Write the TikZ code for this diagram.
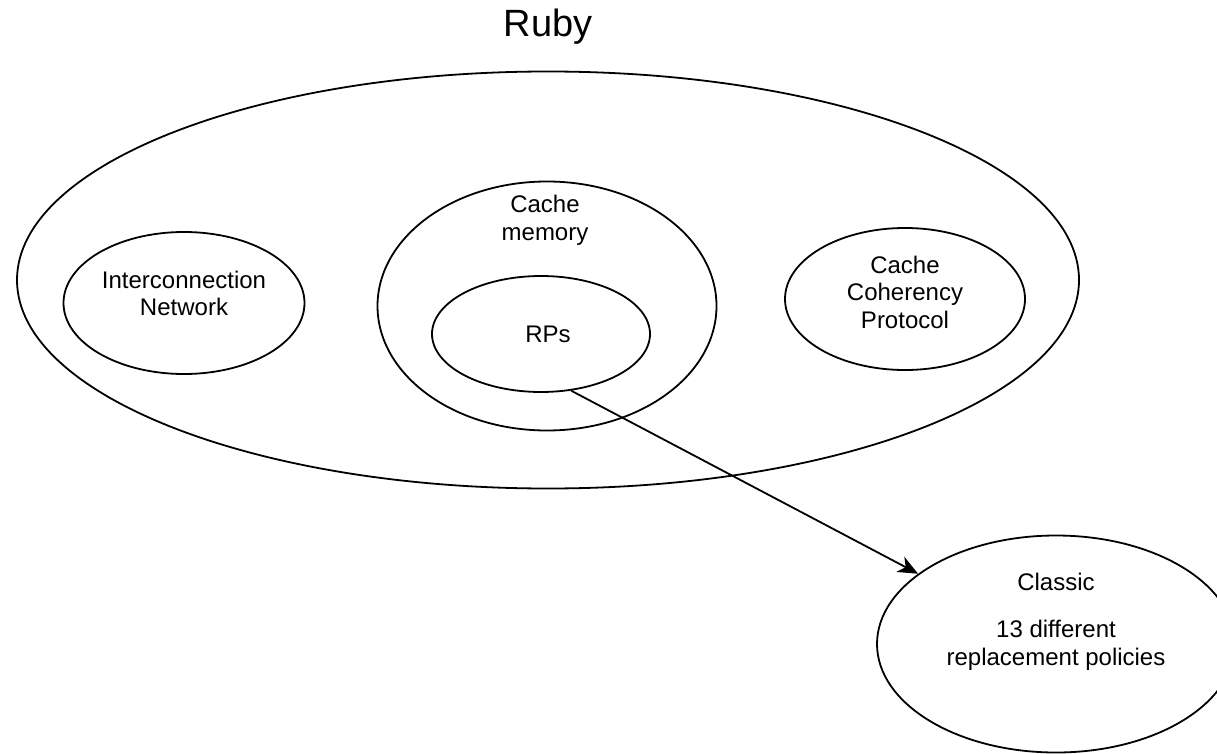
\documentclass[tikz,border=0pt]{standalone}
\usepackage{fontspec}
\setmainfont{Liberation Sans}
\usetikzlibrary{shapes.geometric,arrows.meta}
\begin{document}
\begin{tikzpicture}[x=1pt,y=-1pt,
  oval/.style={draw=black,line width=1.8pt,ellipse,inner sep=0pt},
  lbl/.style={anchor=base,inner sep=0pt,font=\fontsize{24}{28}\selectfont},
  conn/.style={draw=black,line width=1.8pt,-{Stealth[length=20pt,width=17pt,inset=6pt]}}]
\useasboundingbox (0,0) rectangle (1217,754);
\begin{scope}
\clip (0,0) rectangle (1217,754);
\node[anchor=base,inner sep=0pt,font=\fontsize{38}{42}\selectfont] (title) at (548,37) {Ruby};
\node[oval,minimum width=1062pt,minimum height=417pt] (ruby) at (548,280) {};
\node[oval,minimum width=241pt,minimum height=142pt] (net) at (184,303) {};
\node[lbl] (net1) at (184,288) {Interconnection};
\node[lbl] (net2) at (184,315) {Network};
\node[oval,minimum width=339pt,minimum height=249pt] (cache) at (547,306) {};
\node[lbl] (cache1) at (545,212) {Cache};
\node[lbl] (cache2) at (545,240) {memory};
\node[oval,minimum width=218pt,minimum height=116pt] (rps) at (541,334) {};
\node[lbl] (rpstxt) at (548,342) {RPs};
\node[oval,minimum width=240pt,minimum height=142pt] (ccp) at (905,299) {};
\node[lbl] (ccp1) at (905,273) {Cache};
\node[lbl] (ccp2) at (905,300) {Coherency};
\node[lbl] (ccp3) at (905,328) {Protocol};
\node[oval,minimum width=358pt,minimum height=217pt] (classic) at (1056,644) {};
\node[lbl] (classic1) at (1056,590) {Classic};
\node[lbl] (classic2) at (1056,637) {13 different};
\node[lbl] (classic3) at (1056,665) {replacement policies};
\draw[conn] (rps.-62) -- (classic.153);
\end{scope}
\end{tikzpicture}
\end{document}
